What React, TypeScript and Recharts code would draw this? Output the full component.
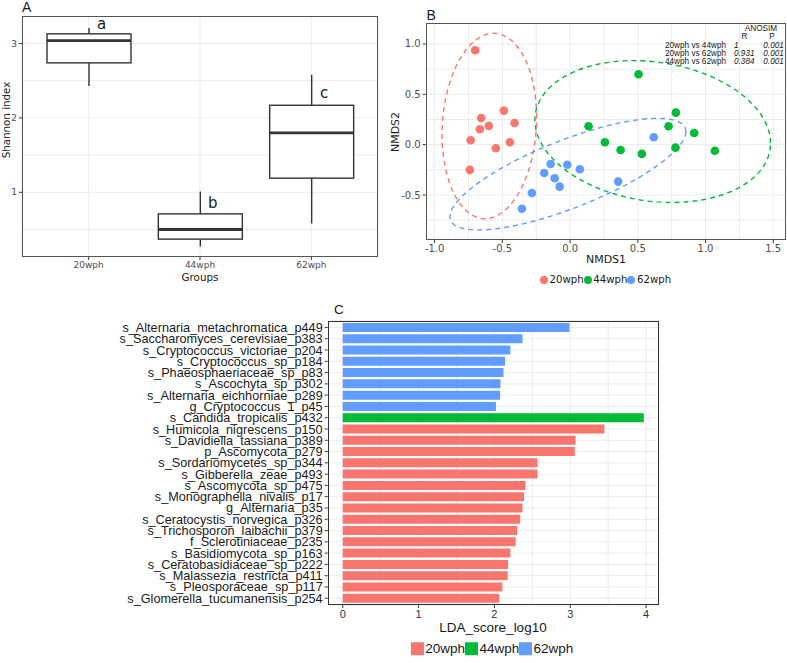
import React from 'react';
import {
  ComposedChart,
  ScatterChart,
  BarChart,
  Bar,
  Scatter,
  Cell,
  XAxis,
  YAxis,
  CartesianGrid,
} from 'recharts';

const W = 787;
const H = 663;
const DEJAVU = '"DejaVu Sans", Verdana, sans-serif';
const ARIAL = '"Liberation Sans", Arial, sans-serif';

const groups = ['20wph', '44wph', '62wph'];
const groupColors = ['#F8766D', '#00BA38', '#619CFF'];

// A: Shannon index boxplots
const whiskerLow = [2.43, 0.27, 0.58];
const lowerQuartile = [2.74, 0.37, 1.19];
const medians = [3.04, 0.5, 1.8];
const upperQuartile = [3.13, 0.71, 2.17];
const whiskerHigh = [3.21, 1.01, 2.58];
const sigLetters = ['a', 'b', 'c'];
const sigLetterY = [3.26, 0.86, 2.33];
const shannonTicks = [1, 2, 3];
const shannonGrid = [0.5, 1, 1.5, 2, 2.5, 3];

// B: NMDS ordination
const nmds1_20 = [-0.7, -0.489, -0.656, -0.41, -0.6, -0.666, -0.734, -0.444, -0.548, -0.74];
const nmds2_20 = [0.937, 0.338, 0.265, 0.215, 0.186, 0.153, 0.044, 0.024, -0.036, -0.251];
const nmds1_44 = [0.505, 0.781, 0.136, 0.727, 0.916, 0.257, 0.373, 0.778, 0.53, 1.069];
const nmds2_44 = [0.699, 0.318, 0.183, 0.183, 0.116, 0.024, -0.053, -0.03, -0.092, -0.06];
const nmds1_62 = [0.618, -0.021, -0.144, 0.072, -0.191, -0.114, -0.077, 0.355, -0.282, -0.356];
const nmds2_62 = [0.073, -0.199, -0.192, -0.245, -0.281, -0.334, -0.417, -0.367, -0.48, -0.636];
// ellipse outlines: centre, horizontal half-extent, y-offset at that extent, vertical half-chord
const ellipseCx = [-0.596, 0.61, -0.016];
const ellipseCy = [0.185, 0.13, -0.293];
const ellipseRx = [0.349, 0.87, 0.871];
const ellipseTilt = [0.085, -0.115, 0.422];
const ellipseRy = [0.917, 0.695, 0.36];
const nmdsTicksX = [-1, -0.5, 0, 0.5, 1, 1.5];
const nmdsTicksY = [-0.5, 0, 0.5, 1];
const nmdsGridX = [-1, -0.75, -0.5, -0.25, 0, 0.25, 0.5, 0.75, 1, 1.25, 1.5];
const nmdsGridY = [-0.75, -0.5, -0.25, 0, 0.25, 0.5, 0.75, 1];
const anosimPairs = ['20wph vs 44wph', '20wph vs 62wph', '44wph vs 62wph'];
const anosimR = ['1', '0.931', '0.384'];
const anosimP = ['0.001', '0.001', '0.001'];

// C: LEfSe LDA scores
const ldaTaxa = [
  's_Alternaria_metachromatica_p449',
  's_Saccharomyces_cerevisiae_p383',
  's_Cryptococcus_victoriae_p204',
  's_Cryptococcus_sp_p184',
  's_Phaeosphaeriaceae_sp_p83',
  's_Ascochyta_sp_p302',
  's_Alternaria_eichhorniae_p289',
  'g_Cryptococcus_1_p45',
  's_Candida_tropicalis_p432',
  's_Humicola_nigrescens_p150',
  's_Davidiella_tassiana_p389',
  'p_Ascomycota_p279',
  's_Sordariomycetes_sp_p344',
  's_Gibberella_zeae_p493',
  's_Ascomycota_sp_p475',
  's_Monographella_nivalis_p17',
  'g_Alternaria_p35',
  's_Ceratocystis_norvegica_p326',
  's_Trichosporon_laibachii_p379',
  'f_Sclerotiniaceae_p235',
  's_Basidiomycota_sp_p163',
  's_Ceratobasidiaceae_sp_p222',
  's_Malassezia_restricta_p411',
  's_Pleosporaceae_sp_p117',
  's_Glomerella_tucumanensis_p254',
];
const ldaScores = [
  2.99, 2.37, 2.21, 2.14, 2.12, 2.08, 2.075, 2.02, 3.97, 3.45, 3.07, 3.06, 2.57,
  2.57, 2.41, 2.39, 2.37, 2.34, 2.3, 2.28, 2.21, 2.18, 2.175, 2.105, 2.065,
];
const ldaGroup = [2, 2, 2, 2, 2, 2, 2, 2, 1, 0, 0, 0, 0, 0, 0, 0, 0, 0, 0, 0, 0, 0, 0, 0, 0];
const ldaTicks = [0, 1, 2, 3, 4];
const ldaGrid = [0, 0.5, 1, 1.5, 2, 2.5, 3, 3.5, 4];

const boxRows = groups.map((g, i) => ({
  group: g,
  range: [whiskerLow[i], whiskerHigh[i]],
  q1: lowerQuartile[i],
  med: medians[i],
  q3: upperQuartile[i],
  letter: sigLetters[i],
  letterY: sigLetterY[i],
}));

const toPoints = (xs: number[], ys: number[]) => xs.map((x, i) => ({ x, y: ys[i] }));
const nmdsPoints = [
  toPoints(nmds1_20, nmds2_20),
  toPoints(nmds1_44, nmds2_44),
  toPoints(nmds1_62, nmds2_62),
];

function ellipseOutline(i: number) {
  const pts = [];
  for (let k = 0; k <= 90; k++) {
    const t = (k / 90) * Math.PI * 2;
    pts.push({
      x: ellipseCx[i] + ellipseRx[i] * Math.cos(t),
      y: ellipseCy[i] + ellipseTilt[i] * Math.cos(t) + ellipseRy[i] * Math.sin(t),
    });
  }
  return pts;
}

const ldaRows = ldaTaxa.map((t, i) => ({ taxon: t, score: ldaScores[i], group: ldaGroup[i] }));

function BoxShape(props: any) {
  const { x, y, width, height, payload } = props;
  const top = Math.min(y, y + height);
  const bottom = Math.max(y, y + height);
  const [lo, hi] = payload.range;
  const py = (v: number) => bottom - ((v - lo) / (hi - lo)) * (bottom - top);
  const cx = x + width / 2;
  const stroke = '#333333';
  return (
    <g>
      <line x1={cx} x2={cx} y1={top} y2={py(payload.q3)} stroke={stroke} strokeWidth={1.4} />
      <line x1={cx} x2={cx} y1={py(payload.q1)} y2={bottom} stroke={stroke} strokeWidth={1.4} />
      <rect
        x={x}
        y={py(payload.q3)}
        width={width}
        height={py(payload.q1) - py(payload.q3)}
        fill="#fff"
        stroke={stroke}
        strokeWidth={1.4}
      />
      <line x1={x} x2={x + width} y1={py(payload.med)} y2={py(payload.med)} stroke={stroke} strokeWidth={2.8} />
      <text
        x={cx + 12.5}
        y={py(payload.letterY)}
        textAnchor="middle"
        dominantBaseline="central"
        fontFamily={DEJAVU}
        fontSize={15}
        fill="#1a1a1a"
      >
        {payload.letter}
      </text>
    </g>
  );
}

function Txt({ x, y, size, children, font = DEJAVU, anchor = 'middle', rotate = false, italic = false, color = '#1a1a1a' }: any) {
  const tx = anchor === 'middle' ? '-50%' : anchor === 'end' ? '-100%' : '0';
  return (
    <div
      style={{
        position: 'absolute',
        left: x,
        top: y,
        transform: `translate(${tx}, -50%)${rotate ? ' rotate(-90deg)' : ''}`,
        fontFamily: font,
        fontSize: size,
        fontStyle: italic ? 'italic' : 'normal',
        color,
        lineHeight: 1,
        whiteSpace: 'nowrap',
      }}
    >
      {children}
    </div>
  );
}

const Border = ({ x1, y1, x2, y2, color = '#555' }: any) => (
  <div
    style={{
      position: 'absolute',
      left: x1,
      top: y1,
      width: x2 - x1,
      height: y2 - y1,
      border: `1.3px solid ${color}`,
      boxSizing: 'border-box',
      pointerEvents: 'none',
    }}
  />
);

const layer: React.CSSProperties = { position: 'absolute', left: 0, top: 0 };
const greyTick = { fontFamily: DEJAVU, fill: '#4d4d4d' };

function PanelA() {
  return (
    <div style={layer}>
      <ComposedChart width={W} height={H} data={boxRows} margin={{ top: 16, right: 409, bottom: 376, left: 0 }}>
        <CartesianGrid horizontalValues={shannonGrid} stroke="#EBEBEB" strokeWidth={1} />
        <XAxis
          dataKey="group"
          padding={{ left: 11, right: 11 }}
          height={30}
          tickSize={3}
          axisLine={false}
          tickLine={{ stroke: '#333' }}
          tick={{ ...greyTick, fontSize: 9 }}
        />
        <YAxis
          type="number"
          domain={[0.13, 3.37]}
          ticks={shannonTicks}
          allowDataOverflow
          width={22}
          tickSize={3}
          axisLine={false}
          tickLine={{ stroke: '#333' }}
          tick={{ ...greyTick, fontSize: 9 }}
        />
        <Bar dataKey="range" barSize={84} shape={BoxShape} isAnimationActive={false} />
      </ComposedChart>
    </div>
  );
}

function PanelB() {
  return (
    <div style={layer}>
      <ScatterChart width={W} height={H} margin={{ top: 23.3, right: 1, bottom: 403, left: 380.7 }}>
        <CartesianGrid horizontalValues={nmdsGridY} verticalValues={nmdsGridX} stroke="#EBEBEB" strokeWidth={1} />
        <XAxis
          type="number"
          dataKey="x"
          domain={[-1.066, 1.594]}
          ticks={nmdsTicksX}
          allowDataOverflow
          height={20}
          tickSize={3}
          axisLine={false}
          tickLine={{ stroke: '#333' }}
          tickFormatter={(v: number) => v.toFixed(1)}
          tick={{ ...greyTick, fontSize: 10 }}
        />
        <YAxis
          type="number"
          dataKey="y"
          domain={[-0.947, 1.205]}
          ticks={nmdsTicksY}
          allowDataOverflow
          width={45}
          tickSize={3}
          axisLine={false}
          tickLine={{ stroke: '#333' }}
          tickFormatter={(v: number) => v.toFixed(1)}
          tick={{ ...greyTick, fontSize: 10 }}
        />
        {groups.map((g, i) => (
          <Scatter
            key={'ell' + g}
            data={ellipseOutline(i)}
            line={{ stroke: groupColors[i], strokeWidth: 1.4, strokeDasharray: '5 4' }}
            lineType="joint"
            shape={() => <g />}
            isAnimationActive={false}
          />
        ))}
        {groups.map((g, i) => (
          <Scatter
            key={g}
            data={nmdsPoints[i]}
            shape={(p: any) => <circle cx={p.cx} cy={p.cy} r={4.3} fill={groupColors[i]} />}
            isAnimationActive={false}
          />
        ))}
      </ScatterChart>
    </div>
  );
}

function PanelC() {
  return (
    <div style={layer}>
      <BarChart
        layout="vertical"
        width={W}
        height={H}
        data={ldaRows}
        margin={{ top: 320.7, right: 128, bottom: 44, left: 0 }}
        barCategoryGap="10%"
      >
        <CartesianGrid verticalValues={ldaGrid} stroke="#EBEBEB" strokeWidth={1} />
        <XAxis
          type="number"
          domain={[-0.1985, 4.17]}
          ticks={ldaTicks}
          allowDataOverflow
          height={14}
          tickSize={3}
          axisLine={false}
          tickLine={{ stroke: '#333' }}
          tick={{ fontFamily: ARIAL, fill: '#333', fontSize: 11 }}
        />
        <YAxis
          type="category"
          dataKey="taxon"
          width={327.7}
          interval={0}
          padding={{ top: 1.1, bottom: 1.1 }}
          tickSize={3}
          axisLine={false}
          tickLine={{ stroke: '#333' }}
          tick={{ fontFamily: ARIAL, fill: '#1a1a1a', fontSize: 12.7 }}
        />
        <Bar dataKey="score" isAnimationActive={false}>
          {ldaRows.map((r, i) => (
            <Cell key={i} fill={groupColors[r.group]} />
          ))}
        </Bar>
      </BarChart>
    </div>
  );
}

export default function App() {
  return (
    <div style={{ position: 'absolute', left: 0, top: 0, width: W, height: H, background: '#fff', overflow: 'hidden' }}>
      <PanelA />
      <PanelB />
      <PanelC />
      <Border x1={22} y1={16} x2={378} y2={257} />
      <Border x1={425.7} y1={23.3} x2={786} y2={240} />
      <Border x1={327.7} y1={320.7} x2={659} y2={605} color="#333" />

      <Txt x={22} y={7} size={14} font={ARIAL} anchor="start">A</Txt>
      <Txt x={426.5} y={14.5} size={14} font={ARIAL} anchor="start">B</Txt>
      <Txt x={334} y={309.5} size={13.5} font={ARIAL} anchor="start">C</Txt>

      <Txt x={200} y={276.5} size={10.4}>Groups</Txt>
      <Txt x={5.5} y={120} size={10.3} rotate>Shannon index</Txt>

      <Txt x={606} y={259} size={11}>NMDS1</Txt>
      <Txt x={395} y={132} size={11} rotate>NMDS2</Txt>

      <Txt x={761} y={29} size={8.2} font={ARIAL}>ANOSIM</Txt>
      <Txt x={744.5} y={36.5} size={8.2} font={ARIAL}>R</Txt>
      <Txt x={772} y={36.5} size={8.2} font={ARIAL}>P</Txt>
      {anosimPairs.map((p, i) => (
        <React.Fragment key={p}>
          <Txt x={665} y={45.7 + i * 8.2} size={8.2} font={ARIAL} anchor="start">{p}</Txt>
          <Txt x={734} y={45.7 + i * 8.2} size={8.2} font={ARIAL} anchor="start" italic>{anosimR[i]}</Txt>
          <Txt x={763.3} y={45.7 + i * 8.2} size={8.2} font={ARIAL} anchor="start" italic>{anosimP[i]}</Txt>
        </React.Fragment>
      ))}

      <div style={{ position: 'absolute', left: 540, top: 280, transform: 'translateY(-50%)', display: 'flex', alignItems: 'center', fontFamily: DEJAVU, fontSize: 10.2, color: '#1a1a1a', lineHeight: 1 }}>
        {groups.map((g, i) => (
          <div key={g} style={{ display: 'flex', alignItems: 'center' }}>
            <div style={{ width: 8, height: 8, borderRadius: '50%', background: groupColors[i], marginRight: 1.5 }} />
            <span>{g}</span>
          </div>
        ))}
      </div>

      <Txt x={493} y={628.3} size={13.5} font={ARIAL}>LDA_score_log10</Txt>
      <div style={{ position: 'absolute', left: 411, top: 648.5, transform: 'translateY(-50%)', display: 'flex', alignItems: 'center', fontFamily: ARIAL, fontSize: 13.5, color: '#1a1a1a', lineHeight: 1 }}>
        {groups.map((g, i) => (
          <div key={g} style={{ display: 'flex', alignItems: 'center' }}>
            <div style={{ width: 13.3, height: 13.3, background: groupColors[i], marginRight: 1 }} />
            <span>{g}</span>
          </div>
        ))}
      </div>
    </div>
  );
}
